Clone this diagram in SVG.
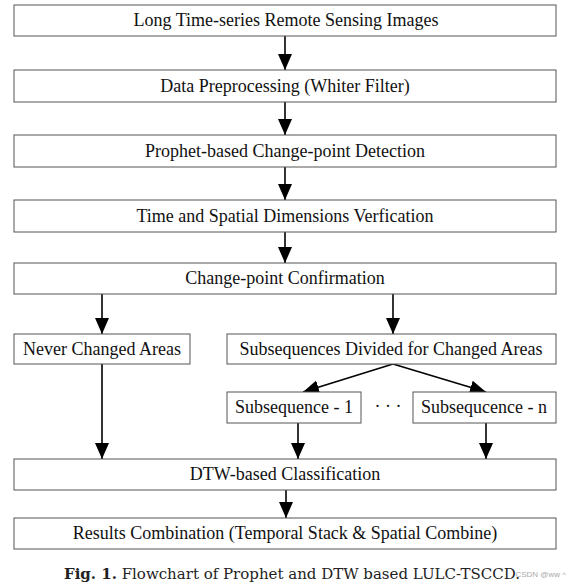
<svg xmlns="http://www.w3.org/2000/svg" width="570" height="587" viewBox="0 0 570 587">
<style>
.box{fill:#fff;stroke:#555;stroke-width:1}
.t{font-family:"Liberation Serif","Times New Roman",serif;font-size:18px;fill:#111;text-anchor:middle}
.c{stroke:#000;stroke-width:1.6;fill:none;marker-end:url(#ah)}
.cap{font-family:"DejaVu Serif","Liberation Serif",serif;font-size:15px;fill:#222}
</style>
<defs>
<marker id="ah" markerUnits="userSpaceOnUse" markerWidth="16" markerHeight="16" refX="16" refY="7" orient="auto">
<path d="M0,0 L16,7 L0,14 Z" fill="#000"/>
</marker>
</defs>
<rect width="570" height="587" fill="#fff"/>
<g id="connectors">
<line class="c" x1="285" y1="36" x2="285" y2="70"/>
<line class="c" x1="285" y1="102" x2="285" y2="135"/>
<line class="c" x1="285" y1="167" x2="285" y2="200"/>
<line class="c" x1="285" y1="232" x2="285" y2="263"/>
<line class="c" x1="102" y1="294" x2="102" y2="334"/>
<line class="c" x1="393" y1="294" x2="393" y2="334"/>
<line class="c" x1="393" y1="364" x2="303" y2="392"/>
<line class="c" x1="393" y1="364" x2="486" y2="392"/>
<line class="c" x1="102" y1="364" x2="102" y2="459"/>
<line class="c" x1="298" y1="423" x2="298" y2="459"/>
<line class="c" x1="486" y1="423" x2="486" y2="459"/>
<line class="c" x1="286" y1="490" x2="286" y2="518"/>
</g>
<g id="n1"><rect class="box" x="14" y="5" width="542" height="31"/><text class="t" x="286" y="26">Long Time-series Remote Sensing Images</text></g>
<g id="n2"><rect class="box" x="14" y="70" width="542" height="32"/><text class="t" x="285" y="92">Data Preprocessing (Whiter Filter)</text></g>
<g id="n3"><rect class="box" x="14" y="135" width="542" height="32"/><text class="t" x="285" y="157">Prophet-based Change-point Detection</text></g>
<g id="n4"><rect class="box" x="14" y="200" width="542" height="32"/><text class="t" x="285" y="222">Time and Spatial Dimensions Verfication</text></g>
<g id="n5"><rect class="box" x="14" y="263" width="542" height="31"/><text class="t" x="285" y="284">Change-point Confirmation</text></g>
<g id="n6"><rect class="box" x="14" y="334" width="176" height="30"/><text class="t" x="102" y="355">Never Changed Areas</text></g>
<g id="n7"><rect class="box" x="227" y="334" width="329" height="30"/><text class="t" x="391" y="355">Subsequences Divided for Changed Areas</text></g>
<g id="n8"><rect class="box" x="227" y="392" width="134" height="31"/><text class="t" x="294" y="413">Subsequence - 1</text></g>
<text class="t" x="388" y="412">· · ·</text>
<g id="n9"><rect class="box" x="413" y="392" width="143" height="31"/><text class="t" x="484" y="413">Subsequcence - n</text></g>
<g id="n10"><rect class="box" x="14" y="459" width="542" height="31"/><text class="t" x="285" y="480">DTW-based Classification</text></g>
<g id="n11"><rect class="box" x="14" y="518" width="542" height="31"/><text class="t" x="285" y="539">Results Combination (Temporal Stack &amp; Spatial Combine)</text></g>
<text class="cap" x="64" y="579" textLength="456" lengthAdjust="spacingAndGlyphs"><tspan font-weight="bold">Fig. 1.</tspan> Flowchart of Prophet and DTW based LULC-TSCCD.</text>
<text x="566" y="577" text-anchor="end" font-family="Liberation Sans, sans-serif" font-size="8" fill="#aaa">CSDN @ww ^</text>
</svg>
